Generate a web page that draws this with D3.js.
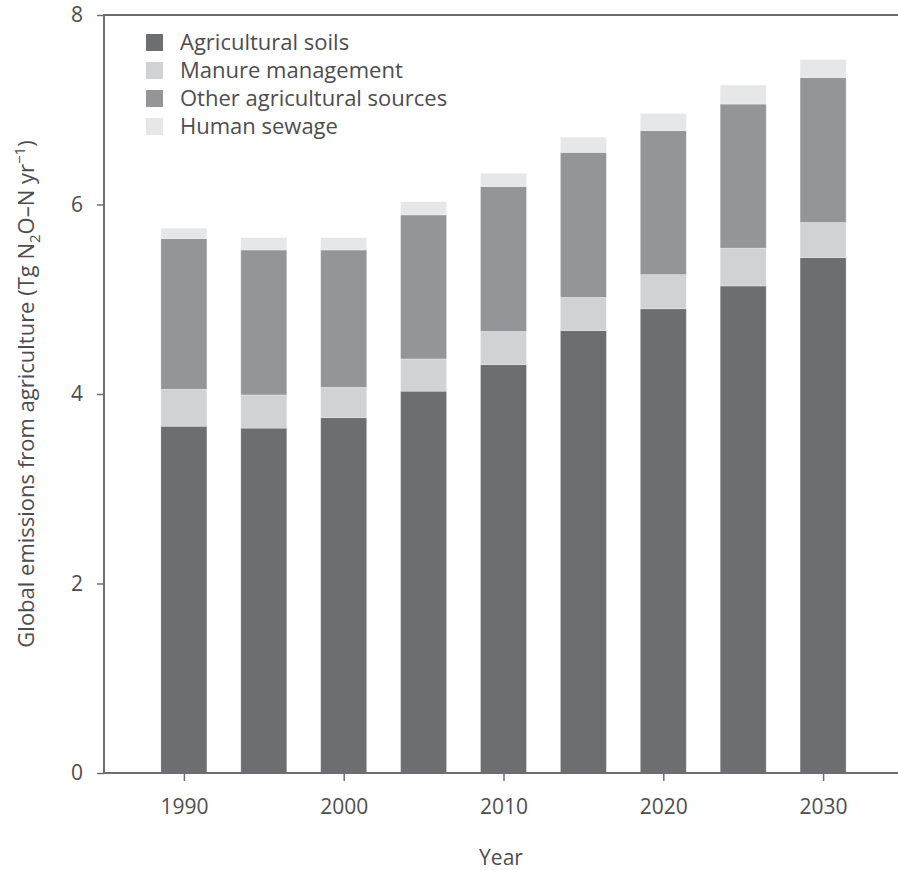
<!DOCTYPE html>
<html>
<head>
<meta charset="utf-8">
<script src="https://cdn.jsdelivr.net/npm/d3@7"></script>
<style>
  html, body { margin: 0; padding: 0; background: #fff; }
  svg text { font-family: "Open Sans", "Noto Sans", sans-serif; fill: #4d4d4f; }
</style>
</head>
<body>
<svg id="chart" width="898" height="870"></svg>
<script>
// Global N2O emissions from agriculture, Tg N2O-N per year
const years = [1990, 1995, 2000, 2005, 2010, 2015, 2020, 2025, 2030];
const agriculturalSoils   = [3.66, 3.64, 3.75, 4.03, 4.31, 4.67, 4.90, 5.14, 5.44];
const manureManagement    = [0.39, 0.35, 0.32, 0.34, 0.35, 0.35, 0.36, 0.40, 0.37];
const otherAgricultural   = [1.59, 1.53, 1.45, 1.52, 1.53, 1.53, 1.52, 1.52, 1.53];
const humanSewage         = [0.11, 0.13, 0.13, 0.14, 0.14, 0.16, 0.18, 0.20, 0.19];
const seriesNames = ["Agricultural soils", "Manure management", "Other agricultural sources", "Human sewage"];
const seriesColors = ["#6d6e71", "#d1d2d4", "#939598", "#e6e7e8"];
const yTicks = [0, 2, 4, 6, 8];
const xTicks = [1990, 2000, 2010, 2020, 2030];

const seriesKeys = ["soils", "manure", "other", "sewage"];
const rows = years.map((yr, i) => ({
  year: yr,
  soils: agriculturalSoils[i],
  manure: manureManagement[i],
  other: otherAgricultural[i],
  sewage: humanSewage[i]
}));

const svg = d3.select("#chart");
const plotLeft = 104, plotRight = 903, plotTop = 15, plotBottom = 773;
const fontStack = "'Open Sans', 'Noto Sans', sans-serif";

const x = d3.scaleLinear().domain([1985, 2035]).range([plotLeft, plotRight]);
const y = d3.scaleLinear().domain([0, 8]).range([plotBottom, plotTop]);
const color = d3.scaleOrdinal().domain(seriesKeys).range(seriesColors);

const stacked = d3.stack().keys(seriesKeys)(rows);
const barW = 46;

// stacked bars
svg.append("g").selectAll("g")
  .data(stacked)
  .join("g")
  .attr("fill", d => color(d.key))
  .selectAll("rect")
  .data(d => d)
  .join("rect")
  .attr("x", d => x(d.data.year) - barW / 2)
  .attr("width", barW)
  .attr("y", d => y(d[1]))
  .attr("height", d => y(d[0]) - y(d[1]))
  .attr("stroke", "#ffffff")
  .attr("stroke-opacity", 0.35)
  .attr("stroke-width", 0.8);

// frame: left, top and bottom lines
const frame = svg.append("g").attr("stroke", "#6d6e71").attr("stroke-width", 2).attr("fill", "none");
frame.append("line").attr("x1", plotLeft).attr("x2", plotLeft).attr("y1", plotTop).attr("y2", plotBottom);
frame.append("line").attr("x1", plotLeft - 1).attr("x2", plotRight).attr("y1", plotTop).attr("y2", plotTop);
frame.append("line").attr("x1", plotLeft - 1).attr("x2", plotRight).attr("y1", plotBottom).attr("y2", plotBottom);

// y axis
const yAxis = svg.append("g")
  .attr("transform", `translate(${plotLeft},0)`)
  .call(d3.axisLeft(y).tickValues(yTicks).tickSize(7).tickPadding(14).tickFormat(d3.format("d")));
yAxis.select(".domain").remove();
yAxis.selectAll(".tick line").attr("stroke", "#6d6e71").attr("stroke-width", 1.5);
yAxis.selectAll(".tick text").attr("font-size", 21).attr("fill", "#4d4d4f")
  .style("font-family", fontStack);

// x axis
const xAxis = svg.append("g")
  .attr("transform", `translate(0,${plotBottom})`)
  .call(d3.axisBottom(x).tickValues(xTicks).tickSize(8).tickPadding(18).tickFormat(d3.format("d")));
xAxis.select(".domain").remove();
xAxis.selectAll(".tick line").attr("stroke", "#6d6e71").attr("stroke-width", 1.5);
xAxis.selectAll(".tick text").attr("font-size", 21).attr("fill", "#4d4d4f")
  .style("font-family", fontStack);

// axis titles
svg.append("text")
  .attr("x", 501)
  .attr("y", 865)
  .attr("text-anchor", "middle")
  .attr("font-size", 21)
  .text("Year");

const yTitle = svg.append("text")
  .attr("transform", `translate(34,${(plotTop + plotBottom) / 2}) rotate(-90)`)
  .attr("text-anchor", "middle")
  .attr("font-size", 22);
yTitle.append("tspan").text("Global emissions from agriculture (Tg N");
yTitle.append("tspan").attr("font-size", 15).attr("dy", 6).text("2");
yTitle.append("tspan").attr("dy", -6).text("O\u2013N yr");
yTitle.append("tspan").attr("font-size", 15).attr("dy", -9).text("\u22121");
yTitle.append("tspan").attr("dy", 9).text(")");

// legend
const legend = svg.append("g").attr("transform", "translate(146,34)");
const item = legend.selectAll("g")
  .data(seriesNames)
  .join("g")
  .attr("transform", (d, i) => `translate(0,${i * 28})`);
item.append("rect")
  .attr("width", 17).attr("height", 17)
  .attr("fill", (d, i) => seriesColors[i]);
item.append("text")
  .attr("x", 34).attr("y", 8.5)
  .attr("dy", "0.35em")
  .attr("font-size", 22)
  .text(d => d);
</script>
</body>
</html>
